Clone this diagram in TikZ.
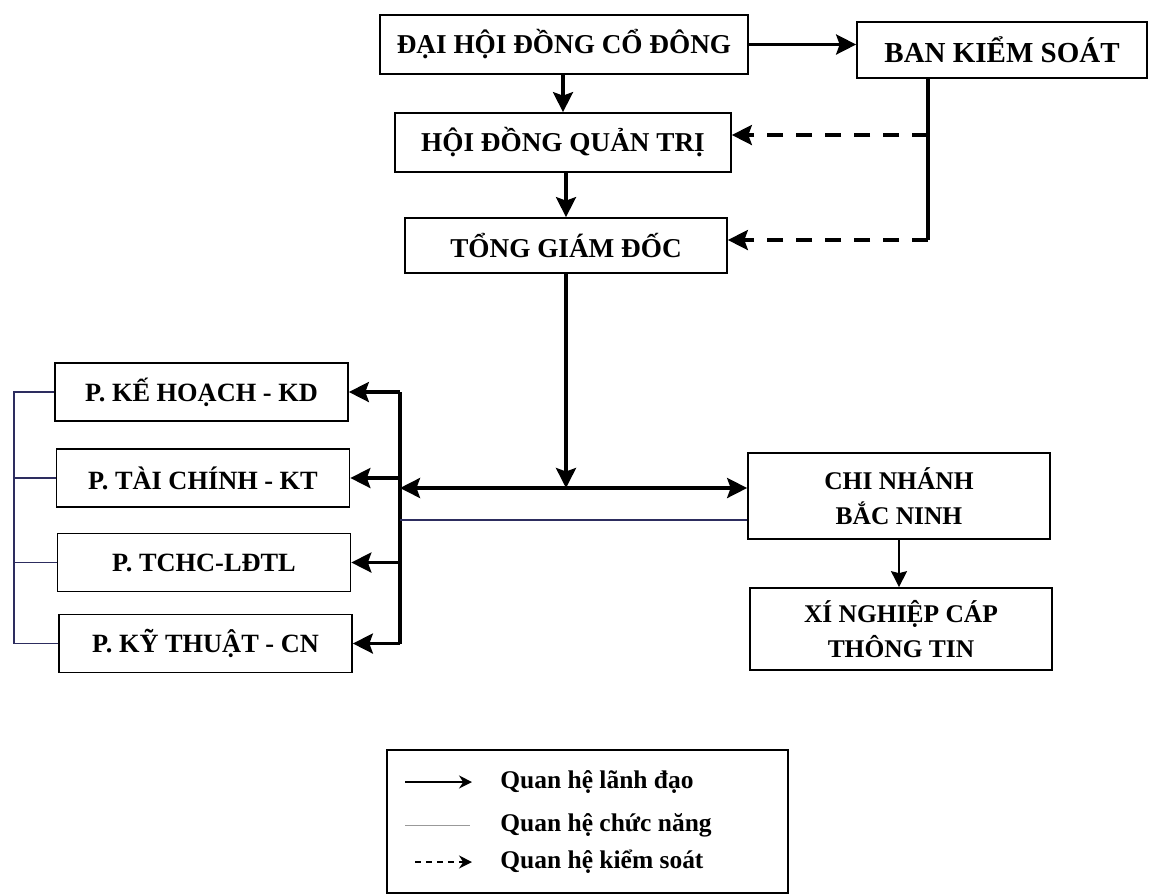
\documentclass[tikz,border=0pt]{standalone}
\usepackage{fontspec}
\setmainfont{Liberation Serif}
\usetikzlibrary{arrows.meta,positioning,calc}
\definecolor{funcline}{RGB}{45,45,95}
\tikzset{
  box/.style={draw, line width=1pt, inner sep=0pt, align=center, font=\bfseries\fontsize{15.5}{20}\selectfont},
  pbox/.style={box, minimum width=5.86cm, minimum height=1.16cm, font=\bfseries\fontsize{15}{18}\selectfont},
  leadtip/.style={-{Stealth[length=4mm,width=4mm,inset=0.7mm]}},
  lead/.style={line width=2pt, leadtip},
  ctrl/.style={lead, dash pattern=on 3.2mm off 2.6mm},
  func/.style={line width=0.6pt, funcline},
  subarrow/.style={line width=0.9pt, -{Stealth[length=3.2mm,width=3.2mm,inset=0.4mm]}},
  legtext/.style={anchor=west, inner sep=0pt, font=\bfseries\fontsize{14.5}{17}\selectfont},
}
\begin{document}
\begin{tikzpicture}[x=0.02cm,y=-0.02cm]
        \useasboundingbox (0,0) rectangle (1149,894);
        % cac khoi chinh
        \node[box, minimum width=7.36cm, minimum height=1.18cm] (dhd) at (564,44.5) {ĐẠI HỘI ĐỒNG CỔ ĐÔNG};
        \node[box, minimum width=5.8cm, minimum height=1.12cm, font=\bfseries\fontsize{16.5}{20}\selectfont] (bks) at (1002,50) {BAN KIỂM SOÁT};
        \node[box, minimum width=6.72cm, minimum height=1.18cm] (hdqt) at (563,142.5) {HỘI ĐỒNG QUẢN TRỊ};
        \node[box, minimum width=6.44cm, minimum height=1.1cm] (tgd) at (566,245.5) {TỔNG GIÁM ĐỐC};
        % cac phong ban
        \node[pbox] (pkh) at (201.5,392) {P. KẾ HOẠCH - KD};
        \node[pbox] (ptc) at (203,478) {P. TÀI CHÍNH - KT};
        \node[pbox] (ptchc) at (204,562.5) {P. TCHC-LĐTL};
        \node[pbox] (pkt) at (205.5,643.5) {P. KỸ THUẬT - CN};
        % chi nhanh va xi nghiep
        \node[box, minimum width=6.04cm, minimum height=1.72cm, font=\bfseries\fontsize{14.5}{20}\selectfont] (cnbn) at (899,496) {CHI NHÁNH\\BẮC NINH};
        \node[box, minimum width=6.04cm, minimum height=1.64cm, font=\bfseries\fontsize{14.5}{20}\selectfont] (xn) at (901,629) {XÍ NGHIỆP CÁP\\THÔNG TIN};
        % quan he lanh dao
        \draw[lead] (dhd.east) -- (dhd.east -| bks.west);
        \draw[lead] (dhd.south -| hdqt.north) -- (hdqt.north);
        \draw[lead] (hdqt.south -| tgd.north) -- (tgd.north);
        \coordinate (bus) at (400,488);
        \draw[lead] (tgd.south) -- (tgd.south |- bus);
        \draw[lead, {Stealth[length=4mm,width=4mm,inset=0.7mm]}-{Stealth[length=4mm,width=4mm,inset=0.7mm]}] (bus) -- (bus -| cnbn.west);
        \draw[line width=2pt] (bus |- pkh.east) -- (bus |- pkt.east);
        \foreach \p in {pkh,ptc,ptchc,pkt}
            \draw[lead] (bus |- \p.east) -- (\p.east);
        \draw[subarrow] (cnbn.south) -- (cnbn.south |- xn.north);
        % quan he kiem soat
        \coordinate (k1) at (928,135);
        \coordinate (k2) at (928,240);
        \draw[line width=2pt] (k1 |- bks.south) -- (k2);
        \draw[ctrl] (k1) -- (k1 -| hdqt.east);
        \draw[ctrl] (k2) -- (k2 -| tgd.east);
        % quan he chuc nang
        \coordinate (fn) at (400,520);
        \draw[func] (fn) -- (fn -| cnbn.west);
        \coordinate (lf) at (14,392);
        \draw[func] (pkh.west) -- (pkh.west -| lf) -- (pkt.west -| lf) -- (pkt.west);
        \draw[func] (ptc.west) -- (ptc.west -| lf);
        \draw[func] (ptchc.west) -- (ptchc.west -| lf);
        % chu thich
        \node[draw, line width=1pt, minimum width=8.02cm, minimum height=2.86cm] (leg) at (587.5,821.5) {};
        \node[legtext] (lg1) at (500,782) {Quan hệ lãnh đạo};
        \node[legtext] (lg2) at (500,825) {Quan hệ chức năng};
        \node[legtext] (lg3) at (500,862) {Quan hệ kiểm soát};
        \coordinate (la1) at (405,782);
        \coordinate (la2) at (405,825);
        \coordinate (la3) at (415,862);
        \draw[line width=1pt, -{Stealth[length=2.6mm,width=2.6mm]}] (la1) -- ($(lg1.west)+(-28,0)$);
        \draw[line width=0.5pt, black!40] (la2) -- ($(lg2.west)+(-30,0)$);
        \draw[line width=0.9pt, dash pattern=on 1.2mm off 1mm, -{Stealth[length=2.6mm,width=2.6mm]}] (la3) -- ($(lg3.west)+(-28,0)$);
\end{tikzpicture}
\end{document}
